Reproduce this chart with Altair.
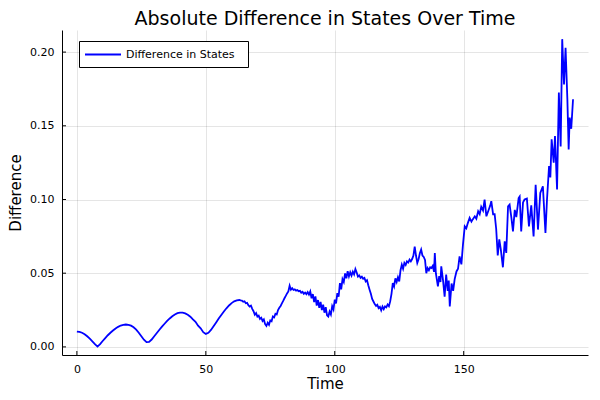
import altair as alt
import pandas as pd

# time grid and values (in units of 1e-3)
smooth_t = list(range(0, 63))
smooth_v = [10.4, 10.2, 9.6, 8.6, 7.2, 5.6, 3.8, 1.9, 0.2, 1.9,
            4.0, 6.0, 7.9, 9.6, 11.1, 12.5, 13.6, 14.5, 15.0, 15.2,
            15.0, 14.4, 13.3, 11.7, 9.6, 7.2, 4.9, 3.2, 3.4, 5.0,
            7.2, 9.4, 11.6, 13.7, 15.7, 17.6, 19.3, 20.8, 22.0, 22.9,
            23.3, 23.2, 22.7, 21.8, 20.5, 18.6, 17.0, 14.4, 12.6, 10.0,
            8.8, 9.6, 11.5, 14.0, 16.6, 19.2, 21.7, 24.0, 26.2, 28.1,
            29.7, 30.9, 31.6]

noisy_t = [63, 63.5, 64, 64.5, 65, 65.5, 66, 66.5, 67, 67.5, 68, 68.5, 69, 69.5,
           70, 70.5, 71, 71.5, 72, 72.5, 73, 73.5, 74, 74.5, 75, 75.5, 76, 76.5,
           77, 77.5, 78, 78.5, 79, 79.5, 80, 80.5, 81, 81.5, 82, 82.5, 83, 83.5,
           84, 84.5, 85, 85.5, 86, 86.5, 87, 87.5, 88, 88.5, 89, 89.5, 90, 90.5,
           91, 91.5, 92, 92.5, 93, 93.5, 94, 94.5, 95, 95.5, 96, 96.5, 97, 97.5,
           98, 98.5, 99, 99.5, 100, 100.5, 101, 101.5, 102, 102.5, 103, 103.5,
           104, 104.5, 105, 105.5, 106, 106.5, 107, 107.5, 108, 108.5, 109, 109.5,
           110, 110.5, 111, 111.5, 112, 112.5, 113, 113.5, 114, 114.5, 115, 115.5,
           116, 116.5, 117, 117.5, 118, 118.5, 119, 119.5, 120, 120.5, 121, 121.5,
           122, 122.5, 123, 123.5, 124, 124.5, 125, 125.5, 126, 126.5, 127, 127.5,
           128, 128.5, 129, 129.5, 130, 130.5, 131, 131.5, 132, 132.5, 133, 133.5,
           134, 134.5, 135, 135.5, 136, 136.5, 137, 137.5, 138, 138.5, 138.8, 139.2,
           140, 140.5, 141, 141.3, 142, 142.6, 143.2, 143.8, 144.2, 144.6, 145.3,
           145.9, 146.5, 147.2, 147.8, 148.4, 149.1, 149.7, 150.4, 151, 151.6,
           152.3, 153, 153.5, 154.3, 154.9, 155.6, 156.2, 156.8, 157.5, 158.1,
           158.8, 159.7, 160.3, 160.7, 161.4, 162, 162.6, 163.2, 163.8, 164.4,
           165.2, 165.9, 166.5, 167.2, 167.8, 168.5, 169.1, 169.8, 170.4, 171.3,
           171.7, 172.3, 173, 173.6, 174.5, 175.3, 176.2, 177.1, 177.9, 178.8,
           179.7, 180.7, 181.7, 182.3, 183.1, 183.6, 184.1, 184.9, 185.4, 186.2,
           186.9, 187.6, 188.2, 188.9, 189.5, 190.2, 190.7, 191.1, 191.7, 192.4]
noisy_v = [31.8, 31.5, 31.4, 30.6, 30.9, 29.6, 29.9, 28.3, 27.4, 28.0, 25.8, 24.2, 21.8, 22.9,
           20.6, 21.2, 19.0, 19.8, 17.6, 18.6, 15.4, 14.2, 16.4, 15.0, 18.0, 17.4, 20.6, 20.0,
           22.5, 22.0, 25.0, 26.5, 27.8, 29.5, 31.2, 33.0, 34.6, 36.3, 37.6, 41.5, 38.8, 39.8,
           38.6, 39.0, 38.2, 38.6, 37.8, 38.0, 36.8, 37.4, 36.0, 36.8, 35.8, 37.2, 35.5, 37.6,
           33.0, 35.8, 30.4, 34.2, 28.0, 31.8, 26.5, 30.5, 25.0, 28.6, 23.2, 27.0, 21.5, 20.6,
           24.0, 22.0, 27.6, 25.4, 32.0, 29.5, 36.5, 34.0, 43.3, 39.0, 46.0, 44.0,
           49.8, 46.5, 51.4, 47.8, 50.6, 48.4, 51.0, 49.2, 52.8, 50.5, 47.7, 48.5,
           46.8, 47.6, 46.2, 46.8, 44.4, 45.2, 41.8, 38.8, 36.0, 32.5, 30.8, 29.0,
           27.8, 28.6, 26.3, 27.2, 24.8, 27.4, 25.6, 27.5, 26.8, 28.8, 27.6, 31.0,
           36.0, 43.3, 41.0, 46.5, 44.0, 47.2, 44.4, 52.0, 55.8, 53.0, 57.0, 55.6,
           58.0, 57.2, 59.2, 58.0, 59.6, 62.0, 68.0, 62.0, 57.0, 59.5, 63.5, 66.0,
           62.0, 61.0, 59.0, 50.0, 53.5, 52.0, 54.0, 53.5, 55.0, 51.0, 63.7, 50.0,
           41.0, 48.0, 44.0, 54.6, 45.0, 34.0, 49.0, 38.0, 45.0, 27.4, 43.0,
           38.0, 46.0, 51.2, 53.0, 61.4, 56.0, 69.0, 81.8, 80.5, 84.0,
           87.5, 85.0, 86.5, 88.6, 87.0, 92.0, 90.0, 95.0, 92.5, 100.0,
           88.6, 93.0, 96.0, 98.9, 90.0, 90.0, 80.0, 62.0, 73.0, 66.0,
           54.0, 71.6, 63.7, 95.4, 96.6, 87.5, 78.4, 93.0, 88.0, 101.0,
           102.0, 78.4, 98.0, 100.0, 100.7, 81.8, 96.0, 75.0, 110.0, 79.6,
           104.5, 109.0, 77.3, 100.0, 122.7, 115.0, 140.8, 125.0, 143.0, 106.8,
           172.6, 136.0, 208.8, 178.0, 203.0, 168.0, 134.0, 155.6, 148.0, 168.0]

x_ticks = [0, 50, 100, 150]
y_ticks = [0.0, 0.05, 0.10, 0.15, 0.20]
series_name = "Difference in States"

times = smooth_t + noisy_t
values = [v / 1000.0 for v in smooth_v + noisy_v]
df = pd.DataFrame({"Time": times, "Difference": values, "series": series_name})

W, H = 526, 325
xs = alt.Scale(domain=[-5.77, 198.2], nice=False, zero=False)
ys = alt.Scale(domain=[-0.0055, 0.215], nice=False, zero=False)
FONT = "DejaVu Sans"
BLUE = "#0000ff"

line = alt.Chart(df).mark_line(strokeWidth=1.8, clip=True, color=BLUE).encode(
    x=alt.X("Time:Q", scale=xs, title="Time",
            axis=alt.Axis(values=x_ticks, format="d", grid=True, tickSize=0,
                          labelPadding=8, titlePadding=2)),
    y=alt.Y("Difference:Q", scale=ys, title="Difference",
            axis=alt.Axis(values=y_ticks, format=".2f", grid=True, tickSize=0,
                          labelPadding=8, titlePadding=6)),
    order="Time:Q",
)

xt = alt.Chart(pd.DataFrame({"t": x_ticks})).mark_rule(color="black", strokeWidth=1).encode(
    x=alt.X("t:Q", scale=xs), y=alt.value(H), y2=alt.value(H - 4))
yt = alt.Chart(pd.DataFrame({"v": y_ticks})).mark_rule(color="black", strokeWidth=1).encode(
    y=alt.Y("v:Q", scale=ys), x=alt.value(0), x2=alt.value(4))

# legend drawn as marks
leg_df = pd.DataFrame({"label": [series_name]})
leg_box = alt.Chart(leg_df).mark_rect(fill="white", stroke="black", strokeWidth=1).encode(
    x=alt.value(17.5), x2=alt.value(186.5), y=alt.value(11.5), y2=alt.value(37.5))
leg_line = alt.Chart(leg_df).mark_rule(color=BLUE, strokeWidth=2).encode(
    x=alt.value(23), x2=alt.value(59), y=alt.value(24.5))
leg_text = alt.Chart(leg_df).mark_text(align="left", baseline="middle", fontSize=11,
                                       font=FONT, color="black").encode(
    x=alt.value(64), y=alt.value(24.5), text="label:N")

chart = alt.layer(line, xt, yt, leg_box, leg_line, leg_text).properties(
    width=W, height=H,
    autosize=alt.AutoSizeParams(type="none"),
    padding={"left": 54, "top": 22, "right": 4, "bottom": 37},
    title=alt.TitleParams("Absolute Difference in States Over Time", fontSize=19,
                          font=FONT, fontWeight="normal", anchor="middle", offset=1,
                          color="black"),
).configure_view(strokeWidth=0).configure_axis(
    labelFont=FONT, titleFont=FONT, labelFontSize=11, titleFontSize=15,
    titleFontWeight="normal", labelColor="black", titleColor="black",
    domainColor="black", domainWidth=1, gridColor="black", gridOpacity=0.1,
)

chart.save("out.html", embed_options={"renderer": "svg", "actions": False})
